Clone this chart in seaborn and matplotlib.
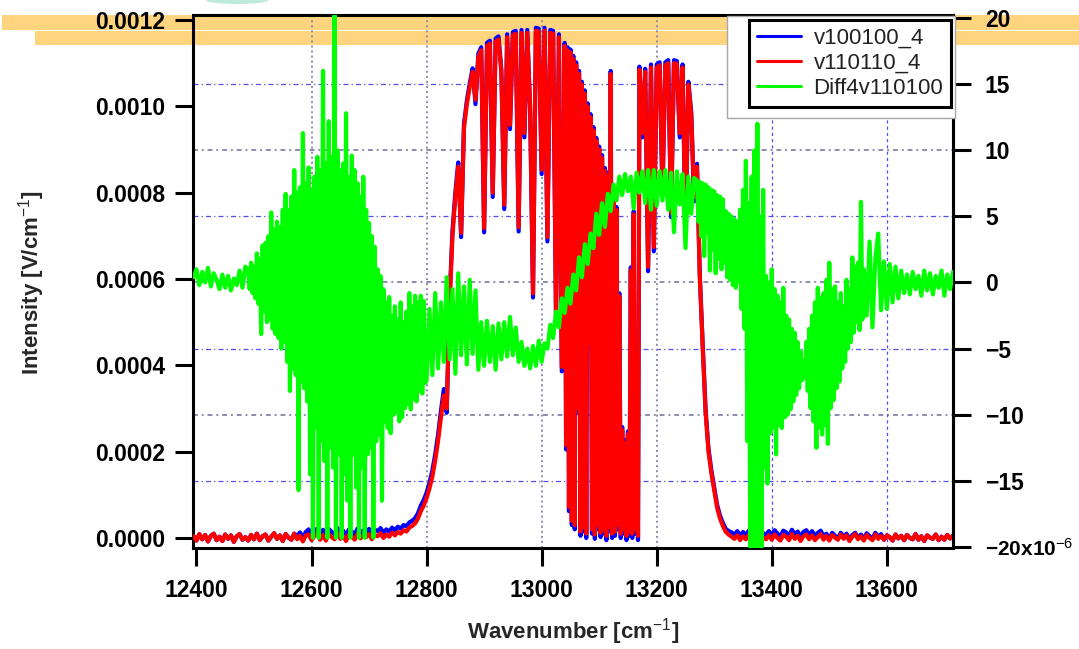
import numpy as np
import matplotlib
matplotlib.use("Agg")
import matplotlib.pyplot as plt
import matplotlib.transforms as mtransforms
from matplotlib.patches import Rectangle, Ellipse
import seaborn as sns

# ---------------- data ----------------
# sampling grids (cm^-1): 5 cm^-1 steps, 2.5 cm^-1 steps where the spectrum is dense
intensity_wavenumber = np.concatenate([np.arange(12395, 13036, 5),
                                       np.arange(13040, 13168, 2.5),
                                       np.arange(13170, 13716, 5)])
diff_wavenumber = np.concatenate([np.arange(12395, 12486, 5),
                                  np.arange(12490, 12799, 2.5),
                                  np.arange(12800, 13266, 5),
                                  np.arange(13270, 13559, 2.5),
                                  np.arange(13560, 13716, 5)])

# v110110_4 intensity, in 1e-6 V/cm
v110110_4 = [
    4, -6, 9, -3, 7, -8, 5, 10, -5, 3, -7, 8, -2, 6, -9, 4, 9, -4, 2, -6,
    7, -3, 10, -5, 4, 8, -6, 3, 11, -2, 6, -7, 9, 1, -4, 10, -3, 5, -8, 6,
    8, -5, 4, 10, -4, 7, -6, 9, 2, -3, 11, -2, 5, -7, 8, 3, -4, 10, -1, 6,
    2, 9, -3, 7, 4, 11, 0, 8, 3, 12, 6, 14, 10, 18, 15, 24, 28, 34, 45, 62,
    75, 92, 115, 142, 180, 225, 280, 330, 300, 540, 700, 790, 860, 707, 950, 1005, 1045, 1080, 1015, 1115,
    1130, 718, 1140, 1145, 800, 1150, 1155, 1078, 772, 1160, 957, 1165, 1168, 720, 1170, 938, 1170, 999, 567, 1175,
    1173, 853, 1175, 697, 1170, 1168, 512, 1160, 396,
    # 13040 - 13167.5 (2.5 steps)
    1140, 215, 1130, 72, 1125, 40, 1110, 30, 1095, 300, 1075, 15, 1050, 25, 1030, 10, 1000, 450, 975, 20,
    945, 8, 920, 30, 900, 12, 880, 20, 850, 5, 840, 25, 1075, 10, 800, 15, 760, 30, 560, 10,
    250, 20, 220, 5, 240, 15, 620, 10, 750, 20, 300, 5,
    # 13170 - 13715
    1085, 938, 1080, 628, 1090,
    674, 1090, 1095, 806, 1095, 1100, 753, 1100, 1098, 938, 1090, 714, 1050, 980, 790, 860, 600, 440, 290, 200,
    150, 110, 70, 45, 28, 14, 8, 3, -2, 6, -5, 4, -3, 7, -4, 5, -2, 8, 1, -3,
    6, -4, 8, 0, -6, 7, 3, -5, 9, -2, 5, -7, 4, 8, -3, 6, -5, 2, 9, -4,
    5, -6, 7, 1, -4, 8, -2, 6, -7, 3, 9, -3, 4, -6, 7, 0, -5, 8, -2, 5,
    -4, 6, 2, -6, 8, -1, 5, -5, 7, 0, -3, 9, -4, 4, -7, 6, 1, -2, 8, -5,
    3, -4, 7, -1, 5,
]

# v100100_4 intensity, in 1e-6 V/cm
v100100_4 = [
    4, -6, 9, -3, 7, -8, 5, 10, -5, 3, -7, 8, -2, 6, -9, 4, 9, -4, 2, -6,
    7, -3, 10, -5, 4, 8, -6, 3, 11, -2, 6, -7, 9, 1, -4, 10, 5, 13, 0, 14,
    20, 7, 16, 22, 8, 19, 6, 21, 14, 9, 23, 10, 17, 5, 20, 15, 8, 22, 11, 18,
    14, 21, 9, 19, 16, 23, 12, 20, 15, 24, 18, 26, 22, 30, 27, 36, 40, 46, 57, 75,
    88, 105, 128, 156, 194, 240, 295, 345, 290, 555, 712, 800, 870, 697, 960, 1013, 1053, 1088, 1005, 1122,
    1137, 708, 1147, 1152, 790, 1157, 1162, 1085, 762, 1167, 947, 1172, 1175, 710, 1177, 928, 1177, 989, 557, 1182,
    1180, 843, 1182, 687, 1177, 1175, 502, 1167, 386,
    # 13040 - 13167.5 (2.5 steps)
    1147, 205, 1137, 62, 1132, 30, 1117, 20, 1102, 290, 1082, 5, 1057, 15, 1037, 0, 1007, 440, 982, 10,
    952, -2, 927, 20, 907, 2, 887, 10, 857, -5, 847, 15, 1082, 0, 807, 5, 767, 20, 567, 0,
    257, 10, 227, -5, 247, 5, 627, 0, 757, 10, 307, -5,
    # 13170 - 13715
    1092, 928, 1087, 618, 1097,
    664, 1097, 1102, 796, 1102, 1107, 743, 1107, 1105, 928, 1097, 704, 1057, 987, 780, 867, 607, 447, 297, 207,
    157, 117, 77, 52, 35, 21, 16, 13, 8, 16, 5, 14, 7, 17, 6, 15, 8, 18, 11, 7,
    16, 6, 18, 10, 4, 17, 13, 5, 19, 8, 15, 3, 14, 18, 7, 16, 5, 12, 17, 4,
    10, -2, 12, 5, 0, 12, 2, 10, -3, 7, 12, 1, 8, -2, 11, 4, -1, 12, 2, 9,
    -4, 6, 2, -6, 8, -1, 5, -5, 7, 0, -3, 9, -4, 4, -7, 6, 1, -2, 8, -5,
    3, -4, 7, -1, 5,
]

# Diff4v110100, in 1e-6 (right axis)
diff4v110100 = [
    # 12395 - 12485
    0.4, 1.0, -0.2, 0.8, 0.0, 1.1, -0.3, 0.7, 0.2, -0.5, 0.6, -0.4, 0.5, -0.6, 0.3, -0.2, 0.9, -0.4, 1.2,
    # 12490 - 12797.5 (2.5 steps)
    1.0, -0.5, 1.5, -0.8, 1.2, -1.2, 2.2, -1.6, 1.8, -3.9, 2.8, -2.2, 3.0, -3.0, 3.5, -2.8, 5.3, -3.5, 4.0, -3.9,
    4.6, -4.2, 4.2, -5.0, 5.5, -4.5, 6.7, -6.0, 5.5, -8.2, 6.5, -6.5, 8.5, -7.0, 6.8, -15.7, 7.2, -7.5, 11.3, -8.0,
    7.5, -9.0, 8.7, -14.5, 7.0, -19.3, 8.0, -11.0, 9.5, -19.3, 8.5, -12.0, 16.0, -13.5, 9.0, -19.3, 12.2, -12.5, 9.5, -14.0,
    20.2, -19.3, 10.0, -13.0, 8.5, -19.3, 9.0, -14.5, 12.8, -16.5, 8.0, -19.3, 9.6, -13.0, 8.5, -15.5, 7.5, -19.3, 6.5, -14.0,
    8.0, -19.3, 5.5, -13.0, 4.5, -12.5, 3.5, -19.3, 2.7, -12.0, 1.0, -11.5, 0.5, -16.5, -0.5, -10.5, -1.5, -11.0, -1.1, -11.4,
    -2.5, -10.0, -1.8, -9.8, -2.8, -10.5, -1.5, -10.2, -3.0, -9.5, -2.2, -9.2, -0.8, -9.6, -1.8, -8.8, -1.0, -9.0, -1.5, -8.2,
    -1.0, -8.4, -1.4, -7.6,
    # 12800 - 13265
    -7.4, -2.0, -7.0, -0.8, -6.5, -1.5, -6.0, 0.4, -5.8, -0.5, -6.9, 0.7, -5.5, -0.3, -6.2, 0.2, -5.4, -0.6, -6.6,
    -3.0, -6.3, -2.9, -6.0, -3.3, -6.6, -3.1, -5.8, -3.0, -5.6, -2.6, -5.5, -3.4, -6.0, -4.5, -6.3, -5.0, -6.5, -4.8, -6.3,
    -4.4, -6.0, -4.6, -5.0, -3.2, -4.2, -2.2, -3.4, -1.2, -2.3, -0.4, -1.6, 0.6, -0.6, 1.9, 0.4, 2.9, 1.4, 3.7, 2.6,
    5.2, 3.6, 6.0, 4.2, 6.7, 5.4, 7.4, 6.2, 8.0, 6.6, 8.2, 6.9, 8.0, 5.6, 8.3, 6.8, 8.4, 6.0, 8.5, 5.5,
    8.5, 5.8, 8.4, 6.2, 8.5, 5.5, 8.3, 3.8, 8.4, 5.9, 8.2, 2.6, 8.0, 5.2, 7.9,
    # 13270 - 13557.5 (2.5 steps)
    7.7, 4.6, 7.6, 3.5, 7.5, 2.0, 7.4, 3.8, 7.2, 0.9, 7.0, 2.5, 6.9, 0.7, 6.6, 1.8, 6.5, 1.0, 6.3, 1.5,
    5.4, 0.4, 5.2, 0.2, 5.0, -0.2, 4.8, -0.4, 4.6, 0.0, 5.5, -2.0, 7.0, -3.5, 9.2, -12.0, 6.0, -20.0, 8.0, -20.0,
    10.0, -20.0, 12.0, -20.0, 5.0, -20.0, 7.0, -14.0, 0.5, -15.2, 0.0, -11.4, 1.0, -11.0, -0.5, -13.0, -1.0, -10.8, -1.5, -11.0,
    -0.4, -10.2, -2.5, -10.0, -2.8, -9.6, -3.5, -9.0, -3.8, -8.5, -4.5, -8.0, -5.2, -7.4, -5.9, -7.2, -4.5, -8.2, -3.5, -9.5,
    -2.5, -10.5, -1.5, -12.5, -0.4, -11.0, -1.2, -11.5, -0.8, -10.8, 0.2, -12.2, 1.5, -9.5, -0.5, -8.9, -0.3, -8.0, -1.5, -7.5,
    -0.8, -6.5, -1.8, -6.0, 0.2, -5.0, -0.5, -4.5, 1.9, -3.8, 1.2, -3.0, 1.5, -3.6, 6.1, -2.8,
    # 13560 - 13715
    1.0, -2.5, 3.1, -3.4, 1.8, 3.7, -2.1,
    1.6, -2.0, 1.4, -1.5, 1.2, -1.2, 0.9, -0.8, 0.6, -0.9, 0.8, -0.5, 0.5, -1.0, 0.9, -0.6, 0.7, -0.9, 0.5, -0.4,
    0.9, -1.0, 0.6, -0.5, 0.8,
]

x_ticks = [12400, 12600, 12800, 13000, 13200, 13400, 13600]
left_ticks = [0.0, 0.0002, 0.0004, 0.0006, 0.0008, 0.0010, 0.0012]
left_labels = ["0.0000", "0.0002", "0.0004", "0.0006", "0.0008", "0.0010", "0.0012"]
right_ticks = [-20, -15, -10, -5, 0, 5, 10, 15, 20]
right_labels = ["\u221220x10$^{-6}$", "\u221215", "\u221210", "\u22125", "0", "5", "10", "15", "20"]
series_names = ["v100100_4", "v110110_4", "Diff4v110100"]

# ---------------- style ----------------
sns.set_style("white")
plt.rcParams["font.family"] = ["Liberation Sans", "DejaVu Sans"]
plt.rcParams["mathtext.fontset"] = "custom"
plt.rcParams["mathtext.rm"] = "Liberation Sans"
plt.rcParams["mathtext.it"] = "Liberation Sans:italic"
plt.rcParams["mathtext.bf"] = "Liberation Sans:bold"
plt.rcParams["axes.unicode_minus"] = True

W, H = 1079, 649
fig = plt.figure(figsize=(W / 100, H / 100), dpi=100)
fig.patch.set_facecolor("white")

# orange highlight bands across the top
ORANGE = "#FFD47F"
fig.add_artist(Rectangle((2 / W, 1 - 29.5 / H), 1, 14.5 / H, transform=fig.transFigure,
                         facecolor=ORANGE, edgecolor="none", zorder=-5))
fig.add_artist(Rectangle((35 / W, 1 - 44.5 / H), 1, 13.5 / H, transform=fig.transFigure,
                         facecolor=ORANGE, edgecolor="none", zorder=-5))
fig.add_artist(Ellipse((237 / W, 1 - 0.5 / H), 62 / W, 7 / H, transform=fig.transFigure,
                       facecolor="#bfe9d9", edgecolor="none", zorder=-4))

ax = fig.add_axes([193 / W, 1 - 548 / H, (953 - 193) / W, (548 - 15) / H])
ax.set_facecolor("none")
ax2 = ax.twinx()

int_blue = np.array(v100100_4) * 1e-6
int_red = np.array(v110110_4) * 1e-6
diff = np.array(diff4v110100)

LW = 3.0
sns.lineplot(x=intensity_wavenumber, y=int_blue, ax=ax, color="#0000FF", linewidth=LW,
             label=series_names[0], zorder=2)
sns.lineplot(x=intensity_wavenumber, y=int_red, ax=ax, color="#FF0000", linewidth=LW,
             label=series_names[1], zorder=3)
sns.lineplot(x=diff_wavenumber, y=diff, ax=ax2, color="#00FF00", linewidth=LW,
             label=series_names[2], zorder=3)

# grid lines (under the data)
blend_h = mtransforms.blended_transform_factory(ax.transAxes, ax2.transData)
for v in [15, 5, -5, -15]:
    ax.plot([0, 1], [v, v], transform=blend_h, color="#5050F0", lw=0.9,
            ls=(0, (4, 2.5, 1, 2.5)), zorder=0.5)
for v in [10, 0, -10]:
    ax.plot([0, 1], [v, v], transform=blend_h, color="#8C8CB0", lw=1.4,
            ls=(0, (2.5, 2, 1, 2)), zorder=0.5)
for xv in [12600, 12800, 13000, 13200]:
    ax.axvline(xv, color="#8C8CB0", lw=1.4, ls=(0, (1, 1.6)), zorder=0.5)
for xv in [13400, 13600]:
    ax.axvline(xv, color="#5050F0", lw=0.9, ls=(0, (2.5, 2.5)), zorder=0.5)

# limits
ax.set_xlim(12394, 13715)
ax.set_ylim(-0.0000232, 0.0012116)
ax2.set_ylim(-20.076, 20.227)

# ticks
ax.set_xticks(x_ticks)
ax.set_xticklabels([str(t) for t in x_ticks])
ax.set_yticks(left_ticks)
ax.set_yticklabels(left_labels)
ax2.set_yticks(right_ticks)
ax2.set_yticklabels(right_labels)

ax.tick_params(axis="both", which="major", direction="out", length=13, width=2.2,
               colors="black", labelsize=16.5, bottom=True, left=True, top=False, right=False)
ax.tick_params(axis="y", pad=7)
ax.tick_params(axis="x", pad=9)
ax2.tick_params(axis="y", direction="out", length=13, width=2.2, colors="black",
                labelsize=16.5, right=True, left=False, pad=10)
for lbl in ax.get_xticklabels() + ax.get_yticklabels() + ax2.get_yticklabels():
    lbl.set_fontweight("bold")
ax2.get_yticklabels()[0].set_fontsize(15)

for side in ["left", "right", "top", "bottom"]:
    ax.spines[side].set_linewidth(2.2)
    ax.spines[side].set_color("black")
for side in ["left", "top", "bottom"]:
    ax2.spines[side].set_visible(False)
ax2.spines["right"].set_linewidth(2.2)
ax2.spines["right"].set_color("black")

# labels
ax.set_xlabel("Wavenumber [cm$^{-1}$]", fontsize=16, fontweight="bold")
ax.xaxis.label.set_va("center")
ax.xaxis.set_label_coords(0.5, (548 - 632) / 533)
ax.set_ylabel("Intensity [V/cm$^{-1}$]", fontsize=16, fontweight="bold")
ax.yaxis.label.set_va("center")
ax.yaxis.label.set_ha("center")
ax.yaxis.set_label_coords((32 - 193) / 760, (548 - 283) / 533)
ax2.set_ylabel("")

# legend
h1, l1 = ax.get_legend_handles_labels()
h2, l2 = ax2.get_legend_handles_labels()
if ax.get_legend() is not None:
    ax.get_legend().remove()
if ax2.get_legend() is not None:
    ax2.get_legend().remove()
ax2.add_artist(Rectangle((727 / W, 1 - 118 / H), 228 / W, 102 / H, transform=fig.transFigure,
                         facecolor="white", edgecolor="#A8A8A8", lw=1.0, zorder=4, clip_on=False))
leg = ax2.legend(h1 + h2, l1 + l2, loc="upper right", bbox_to_anchor=(951 / W, 1 - 19.5 / H),
                 bbox_transform=fig.transFigure, borderaxespad=0, frameon=True, fancybox=False,
                 framealpha=1, edgecolor="black", fontsize=16, handlelength=2.0,
                 handletextpad=0.55, labelspacing=0.2, borderpad=0.35)
leg.get_frame().set_linewidth(2.2)
leg.set_zorder(5)
for line in leg.get_lines():
    line.set_linewidth(2.2)
for t in leg.get_texts():
    t.set_color("#222222")

fig.savefig("out.png", dpi=100, facecolor="white")
